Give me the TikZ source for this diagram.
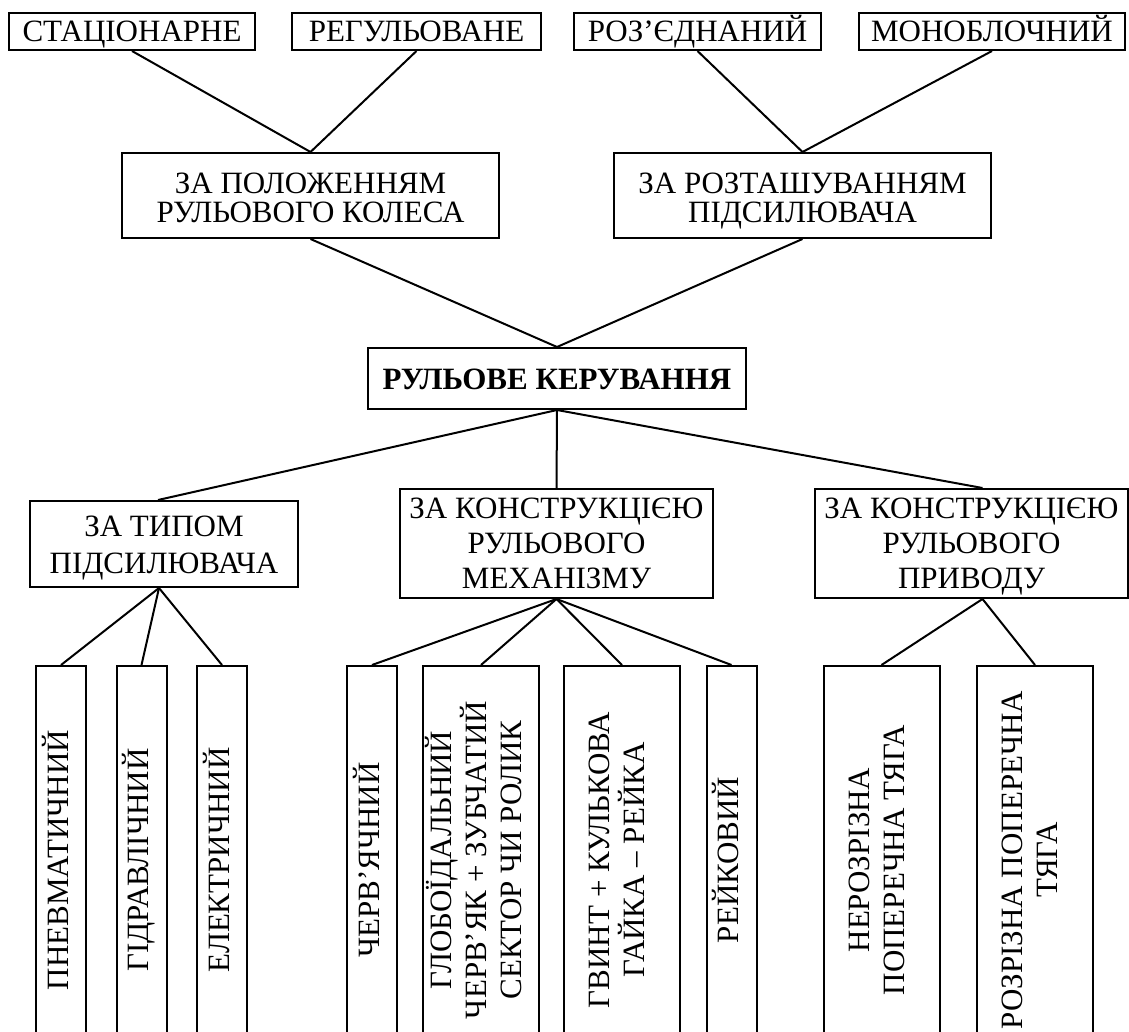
\documentclass[tikz,border=0pt]{standalone}
\usepackage{fontspec}
\setmainfont{Liberation Serif}
\tikzset{
  box/.style={draw, line width=2pt, inner sep=0pt, align=center,
    font=\fontsize{31}{35}\selectfont},
  oneline/.style={box, text height=24pt, text depth=3pt},
  leaf/.style={box, rotate=90, minimum width=388, minimum height=50,
    text height=22pt, text depth=7.5pt},
  wideleaf/.style={box, rotate=90, minimum width=388, minimum height=116,
    text depth=10.5pt},
  link/.style={line width=2pt}
}
\begin{document}
\begin{tikzpicture}[x=1pt, y=-1pt]
  \useasboundingbox (0,0) rectangle (1129,1032);
  \clip (0,0) rectangle (1129,1032);

  \node[oneline, minimum width=246, minimum height=37] (stat) at (132,31.5) {СТАЦІОНАРНЕ};
  \node[oneline, minimum width=249, minimum height=37] (reg) at (416.5,31.5) {РЕГУЛЬОВАНЕ};
  \node[oneline, minimum width=247, minimum height=37] (rozd) at (697.5,31.5) {РОЗ’ЄДНАНИЙ};
  \node[oneline, minimum width=266, minimum height=37] (mono) at (992,31.5) {МОНОБЛОЧНИЙ};

  \node[box, minimum width=377, minimum height=85, font=\fontsize{31}{29}\selectfont,
    text height=55pt, text depth=0pt] (polozh) at (310.5,195.5) {ЗА ПОЛОЖЕННЯМ\\РУЛЬОВОГО КОЛЕСА};
  \node[box, minimum width=377, minimum height=85, font=\fontsize{31}{29}\selectfont,
    text height=55pt, text depth=0pt] (roztash) at (802.5,195.5) {ЗА РОЗТАШУВАННЯМ\\ПІДСИЛЮВАЧА};

  \node[oneline, minimum width=378, minimum height=61, font=\fontsize{31}{35}\selectfont\bfseries] (kerm) at (557,378.5) {РУЛЬОВЕ КЕРУВАННЯ};

  \node[box, minimum width=268, minimum height=86, font=\fontsize{31}{37}\selectfont,
    text height=58pt, text depth=0pt] (typ) at (164,544) {ЗА ТИПОМ\\ПІДСИЛЮВАЧА};
  \node[box, minimum width=313, minimum height=109, text height=90pt, text depth=0pt] (mech) at (556.5,543.5) {ЗА КОНСТРУКЦІЄЮ\\РУЛЬОВОГО\\МЕХАНІЗМУ};
  \node[box, minimum width=313, minimum height=109, text height=90pt, text depth=0pt] (pryv) at (971.5,543.5) {ЗА КОНСТРУКЦІЄЮ\\РУЛЬОВОГО\\ПРИВОДУ};

  \node[leaf] (pnev) at (61,860) {ПНЕВМАТИЧНИЙ};
  \node[leaf] (gidr) at (141.5,860) {ГІДРАВЛІЧНИЙ};
  \node[leaf] (elek) at (222,860) {ЕЛЕКТРИЧНИЙ};
  \node[leaf] (cherv) at (372,860) {ЧЕРВ’ЯЧНИЙ};
  \node[wideleaf, text height=91pt] (glob) at (481,860) {ГЛОБОЇДАЛЬНИЙ\\ЧЕРВ’ЯК + ЗУБЧАТИЙ\\СЕКТОР ЧИ РОЛИК};
  \node[wideleaf, text height=56pt] (gvint) at (622,860) {ГВИНТ + КУЛЬКОВА\\ГАЙКА – РЕЙКА};
  \node[leaf] (reik) at (731.5,860) {РЕЙКОВИЙ};
  \node[wideleaf, text height=56pt] (nerozr) at (881.5,860) {НЕРОЗРІЗНА\\ПОПЕРЕЧНА ТЯГА};
  \node[wideleaf, text height=56pt] (rozr) at (1035,860) {РОЗРІЗНА ПОПЕРЕЧНА\\ТЯГА};

  \draw[link] (stat.south) -- (polozh.north);
  \draw[link] (reg.south) -- (polozh.north);
  \draw[link] (rozd.south) -- (roztash.north);
  \draw[link] (mono.south) -- (roztash.north);
  \draw[link] (polozh.south) -- (kerm.north);
  \draw[link] (roztash.south) -- (kerm.north);
  \draw[link] (kerm.south) -- ([xshift=-6pt]typ.north);
  \draw[link] (kerm.south) -- (mech.north);
  \draw[link] (kerm.south) -- ([xshift=11pt]pryv.north);
  \draw[link] ([xshift=-5pt]typ.south) -- (pnev.east);
  \draw[link] ([xshift=-5pt]typ.south) -- (gidr.east);
  \draw[link] ([xshift=-5pt]typ.south) -- (elek.east);
  \draw[link] (mech.south) -- (cherv.east);
  \draw[link] (mech.south) -- (glob.east);
  \draw[link] (mech.south) -- (gvint.east);
  \draw[link] (mech.south) -- (reik.east);
  \draw[link] ([xshift=11pt]pryv.south) -- (nerozr.east);
  \draw[link] ([xshift=11pt]pryv.south) -- (rozr.east);
\end{tikzpicture}
\end{document}
